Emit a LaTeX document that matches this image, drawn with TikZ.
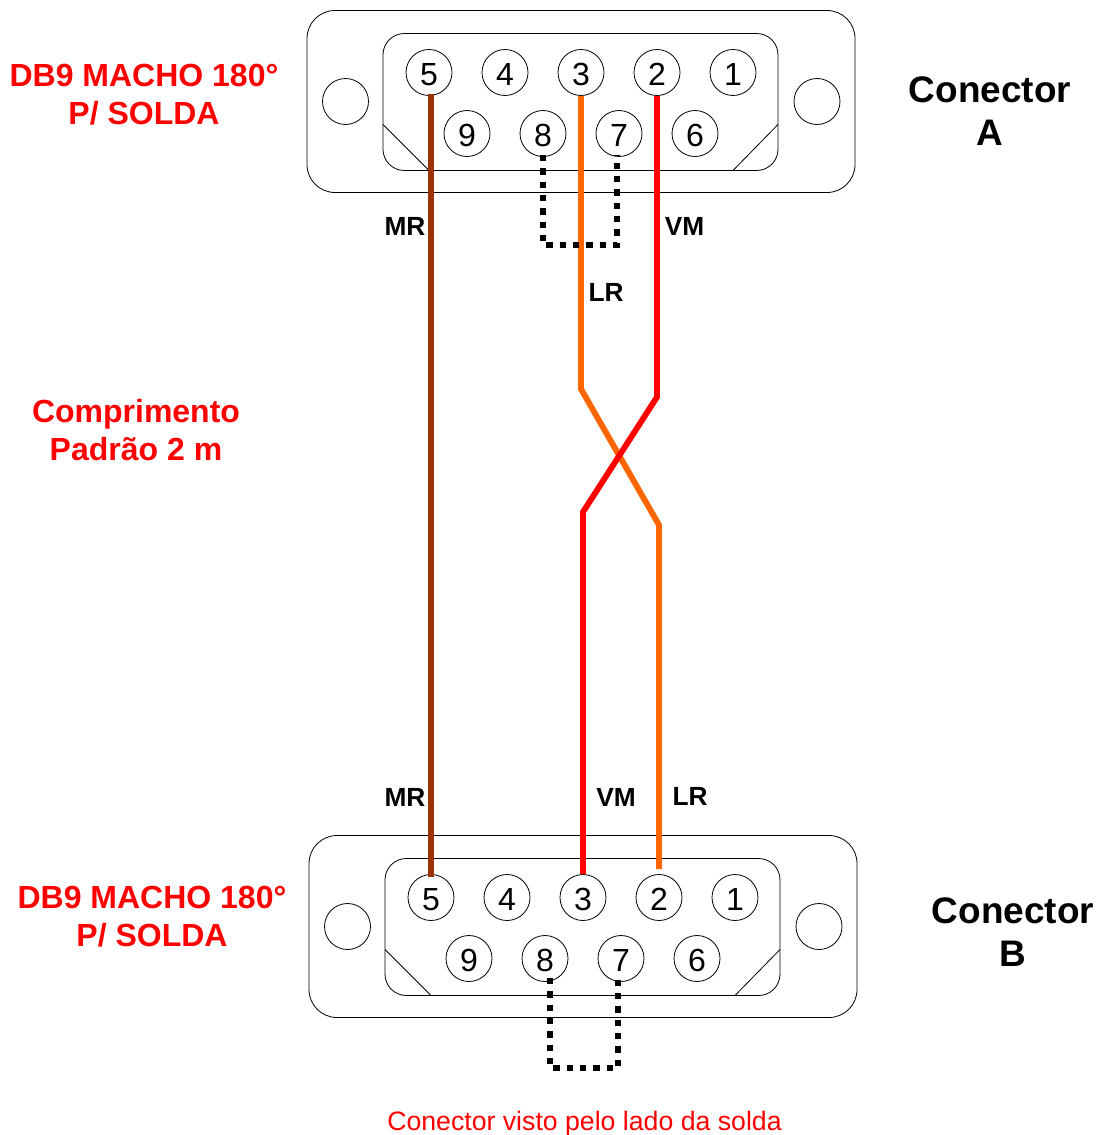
\documentclass[tikz,border=0pt]{standalone}
\usepackage{fontspec}
\setmainfont{Liberation Sans}
\usetikzlibrary{calc,
	positioning}
\definecolor{wirebrown}{RGB}{153,51,0}
\definecolor{wireorange}{RGB}{255,102,0}
\definecolor{wirered}{RGB}{255,0,0}
\tikzset{
	pinhole/.style={draw,circle,inner sep=0pt,minimum size=34.5pt,line width=0.6pt,text height=19.2pt,text depth=0pt,font=\fontsize{24}{24}\selectfont},
	shell/.style={line width=0.6pt},
	wire/.style={line width=4.4pt,line join=miter},
	jumper/.style={line width=4.2pt,dash pattern=on 4.8pt off 5.2pt},
	wirelabel/.style={font=\fontsize{19.7}{19.7}\selectfont\bfseries},
	redtitle/.style={red,align=center,font=\fontsize{24}{28.5}\selectfont\bfseries},
	conntitle/.style={align=center,font=\fontsize{27.7}{32.3}\selectfont\bfseries}
}

\begin{document}
\begin{tikzpicture}[x=0.75pt,y=-0.75pt]
	\useasboundingbox (0,0) rectangle (1100,1135);
	\foreach \conn/\dx/\dy in {a/0/0.5,b/2/825.5} {
		\begin{scope}[shift={(\dx,\dy)}]
			\draw[shell,rounded corners=21pt] (307,10) rectangle (855,192);
			\draw[shell,rounded corners=16pt] (383,33) rectangle (778,170);
			\draw[shell] (383,124) -- (429,170);
			\draw[shell] (778,124) -- (733,170);
			\node[pinhole] (\conn holeL) at (345.5,101) {};
			\node[pinhole] (\conn holeR) at (817,101) {};
			\foreach \pin/\px in {5/429,4/505,3/581,2/657,1/733} {
				\node[pinhole] (\conn\pin) at (\px,72) {\pin};
			}
			\foreach \pin/\px in {9/467,8/543,7/619,6/695} {
				\node[pinhole] (\conn\pin) at (\px,133) {\pin};
			}
		\end{scope}
	}
	\coordinate (mrtop) at (431,94);
	\coordinate (mrbot) at (431,877);
	\coordinate (lrbend) at (581,389);
	\coordinate (lrlow) at (659,525);
	\coordinate (lrbot) at (659,869);
	\coordinate (vmbend) at (657,397);
	\coordinate (vmlow) at (583,512);
	\coordinate (vmbot) at (583,874);
	\coordinate (ajumpL) at (543,245);
	\coordinate (ajumpR) at (617,245);
	\coordinate (ajumpLt) at (543,155);
	\coordinate (ajumpRt) at (617,155);
	\coordinate (bjumpLt) at (550,978);
	\coordinate (bjumpRt) at (618,978);
	\coordinate (bjumpL) at (550,1068);
	\coordinate (bjumpR) at (618,1068);
	\draw[wire,wirebrown] (mrtop) -- (mrbot);
	\draw[wire,wireorange] (a3.south) -- (lrbend) -- (lrlow) -- (lrbot);
	\draw[wire,wirered] (a2.south) -- (vmbend) -- (vmlow) -- (vmbot);
	\draw[jumper] (ajumpLt) -- (ajumpL) -- (ajumpR) -- (ajumpRt);
	\draw[jumper] (bjumpLt) -- (bjumpL) -- (bjumpR) -- (bjumpRt);
	\node[wirelabel] (mrA) at (405,226) {MR};
	\node[wirelabel] (vmA) at (684.5,226) {VM};
	\node[wirelabel] (lrA) at (606,292) {LR};
	\node[wirelabel] (mrB) at (405,797) {MR};
	\node[wirelabel] (vmB) at (616,797) {VM};
	\node[wirelabel] (lrB) at (690,796) {LR};
	\node[redtitle] (titleA) at (144,94.5) {DB9 MACHO 180°\\P/ SOLDA};
	\node[redtitle] (titleB) at (152,916.5) {DB9 MACHO 180°\\P/ SOLDA};
	\node[redtitle] (length) at (136,430.5) {Comprimento\\Padrão 2 m};
	\node[conntitle] (connA) at (990,111) {Conector\\A};
	\node[conntitle] (connB) at (1013,932) {Conector\\B};
	\node[red,font=\fontsize{20}{20}\selectfont] (view) at (584.5,1123.5) {Conector visto pelo lado da solda};
\end{tikzpicture}
\end{document}
